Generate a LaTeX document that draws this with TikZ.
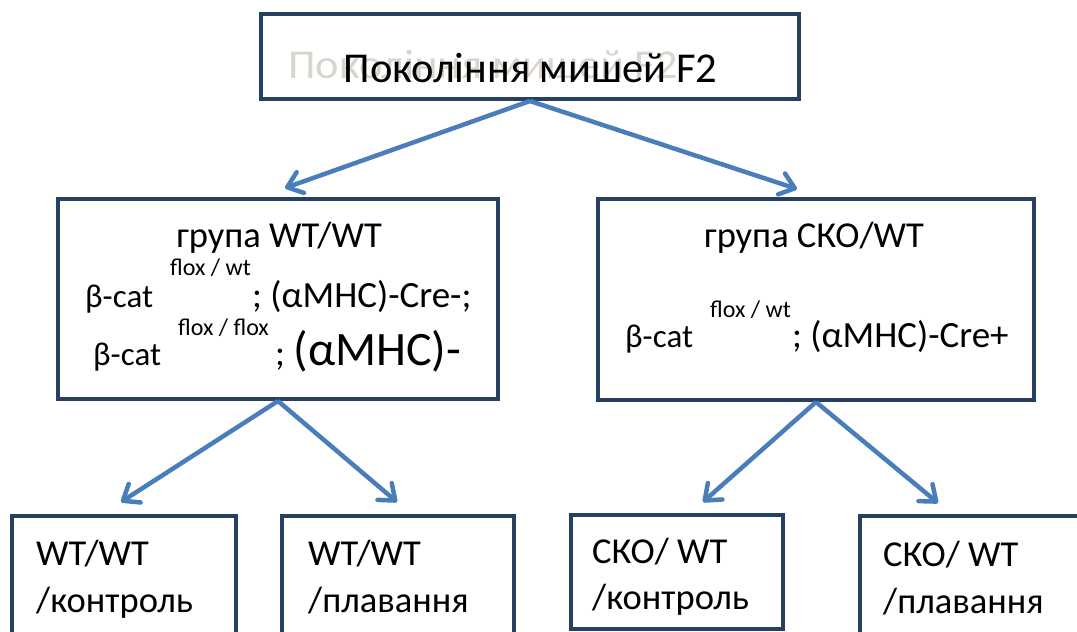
\documentclass[tikz,border=0pt]{standalone}
\usepackage{fontspec}
\setmainfont{Carlito}
\usetikzlibrary{graphs}
\usetikzlibrary{arrows.meta}
\definecolor{boxblue}{HTML}{254061}
\definecolor{arrowblue}{HTML}{4A7EBB}
\definecolor{ghostgray}{HTML}{D9D4CC}

\begin{document}
\begin{tikzpicture}[x=10pt, y=-10pt,
    box/.style={draw=boxblue, line width=4pt, inner sep=0pt},
    big/.style={inner sep=0pt, anchor=base west, font=\fontsize{36.5}{42}\selectfont},
    gene/.style={inner sep=0pt, anchor=base west, font=\fontsize{33}{38}\selectfont},
    cre/.style={inner sep=0pt, anchor=base west, font=\fontsize{37}{42}\selectfont},
    sup/.style={inner sep=0pt, anchor=base west, font=\fontsize{24}{28}\selectfont},
    link/.style={draw=arrowblue, line width=4.5pt, -{Straight Barb[length=14pt,width=22pt,round]}}]
            \useasboundingbox (0,0) rectangle (107.7,63.2);
            \clip (0,0) rectangle (107.7,63.2);

            % generation box
            \node[inner sep=0pt, anchor=base west, text=ghostgray, font=\fontsize{41}{48}\selectfont]
                (ghost) at (28.8, 7.8) {\scalebox{1.08}[1]{Покоління мишей F2}};
            \node[box, minimum width=538pt, minimum height=85pt] (top) at (53.0, 5.65) {};
            \node[inner sep=0pt, anchor=base, font=\fontsize{42.5}{50}\selectfont]
                (toptxt) at (53.05, 8.2) {Покоління мишей F2};

            % groups
            \node[box, minimum width=440pt, minimum height=200pt] (wt) at (27.8, 29.9) {};
            \node[box, minimum width=436pt, minimum height=201pt] (cko) at (81.6, 29.95) {};

            \node[big, anchor=base] (wthead) at (27.9, 24.7) {група WT/WT};
            \node[gene] (wtcat)   at (8.5, 30.7)  {β-cat};
            \node[sup]  (wtsup)   at (17.0, 27.5) {flox / wt};
            \node[cre]  (wtcre)   at (25.2, 30.7) {; (αMHC)-Cre-;};
            \node[gene] (flcat)   at (9.3, 36.5)  {β-cat};
            \node[sup]  (flsup)   at (17.8, 33.5) {flox / flox};
            \node[cre]  (flcre)   at (27.5, 36.5) {; \fontsize{48}{54}\selectfont(αMHC)-};

            \node[big, anchor=base] (ckohead) at (81.4, 24.7) {група СКО/WT};
            \node[sup]  (ckosup)  at (71.0, 31.7) {flox / wt};
            \node[gene] (ckocat)  at (62.5, 34.7) {β-cat};
            \node[cre]  (ckocre)  at (79.2, 34.7) {; (αMHC)-Cre+};

            % subgroups
            \node[box, minimum width=224pt, minimum height=134pt] (wtc) at (12.4, 58.3) {};
            \node[box, minimum width=232pt, minimum height=134pt] (wts) at (39.8, 58.3) {};
            \node[box, minimum width=212pt, minimum height=114pt] (ckoc) at (67.7, 57.2) {};
            \node[box, minimum width=230pt, minimum height=134pt] (ckos) at (97.5, 58.3) {};

            \node[big] (wtc1)  at (3.6, 56.5)  {WT/WT};
            \node[big] (wtc2)  at (3.6, 61.2)  {/контроль};
            \node[big] (wts1)  at (30.8, 56.5) {WT/WT};
            \node[big] (wts2)  at (30.8, 61.2) {/плавання};
            \node[big] (ckoc1) at (59.2, 56.3) {СКО/ WT};
            \node[big] (ckoc2) at (59.2, 60.9) {/контроль};
            \node[big] (ckos1) at (88.3, 56.6) {СКО/ WT};
            \node[big] (ckos2) at (88.3, 61.3) {/плавання};

            % arrow ends
            \coordinate (topout) at (top.south);
            \coordinate (wtout)  at (wt.south);
            \coordinate (ckoout) at (cko.south);
            \coordinate (towt)   at (28.5, 18.8);
            \coordinate (tocko)  at (79.7, 18.9);
            \coordinate (towtc)  at (12.1, 50.2);
            \coordinate (towts)  at (39.7, 50.2);
            \coordinate (tockoc) at (70.3, 50.2);
            \coordinate (tockos) at (93.8, 50.3);

            \graph[edges={link}] {
                (topout) -- {(towt), (tocko)};
                (wtout) -- {(towtc), (towts)};
                (ckoout) -- {(tockoc), (tockos)};
            };
        \end{tikzpicture}
\end{document}
